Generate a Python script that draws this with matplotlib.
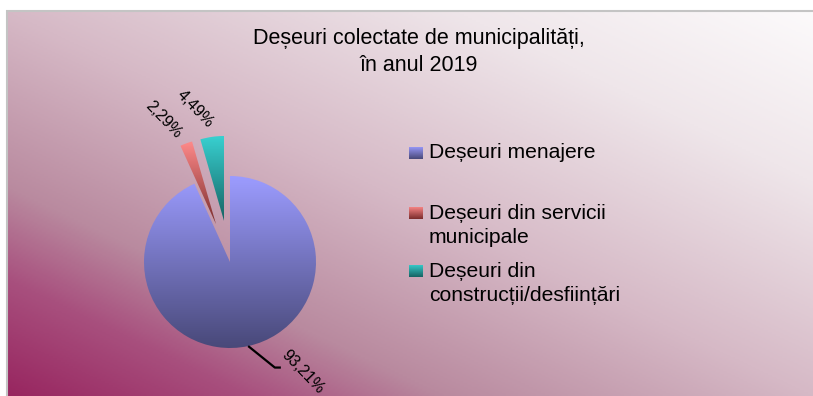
import numpy as np
import matplotlib
matplotlib.use("Agg")
import matplotlib.pyplot as plt
from matplotlib.colors import LinearSegmentedColormap

# ---- data ----
categories = ["Deșeuri menajere",
              "Deșeuri din servicii\nmunicipale",
              "Deșeuri din\nconstrucții/desființări"]
shares = [93.21, 2.29, 4.49]
share_labels = ["93,21%", "2,29%", "4,49%"]
title_text = "Deșeuri colectate de municipalități,\nîn anul 2019"

# ---- styling ----
slice_grad = [("#9c9cff", "#484878"),   # light top -> dark bottom
              ("#ff8a8a", "#7a2c2c"),
              ("#38d0d0", "#166262")]
explode = [0, 0.47, 0.47]
FONT = "Liberation Sans"

W, H = 813, 396
fig = plt.figure(figsize=(W / 100, H / 100), dpi=100)
fig.patch.set_facecolor("white")

# background panel with a diagonal gradient
bg = fig.add_axes([0, 0, 1, 1])
bg.set_xlim(0, W)
bg.set_ylim(H, 0)
bg.axis("off")
xx, yy = np.meshgrid(np.linspace(0, 1, 400), np.linspace(0, 1, 200))
t = (xx + (1 - yy)) / 2
bg_cmap = LinearSegmentedColormap.from_list(
    "bg", [(0.0, "#982660"), (0.15, "#a8507e"), (0.27, "#b98a9f"),
           (0.5, "#d6b9c6"), (0.78, "#efe6ea"), (1.0, "#fcfafb")])
bg.imshow(t, cmap=bg_cmap, extent=[7, W, H, 11], aspect="auto",
          interpolation="bilinear", vmin=0, vmax=1, zorder=0)
bg.plot([6, W], [10.5, 10.5], color="#c4c4c4", lw=1.5, zorder=1,
        solid_capstyle="butt")
bg.plot([6.5, 6.5], [10, H], color="#c4c4c4", lw=1.5, zorder=1,
        solid_capstyle="butt")

# title
fig.text(419 / W, 1 - 52 / H, title_text, ha="center", va="center",
         fontsize=15.5, family=FONT, linespacing=1.32, color="black")


def vgrad(top, bottom):
    return LinearSegmentedColormap.from_list("g", [bottom, top])


grad_img = np.linspace(0, 1, 256).reshape(-1, 1)

# pie (one data unit = 86 px)
R = 86.0
cx, cy = 230, 262
lim = 1.75
size = 2 * lim * R
ax = fig.add_axes([(cx - size / 2) / W, (H - cy - size / 2) / H,
                   size / W, size / H])
wedges, _ = ax.pie(shares, startangle=90, counterclock=False,
                   explode=explode, radius=1,
                   wedgeprops=dict(linewidth=0))
ax.set_aspect("equal")
ax.axis("off")

for w, (top, bot) in zip(wedges, slice_grad):
    v = w.get_path().vertices
    x0, x1 = v[:, 0].min(), v[:, 0].max()
    y0, y1 = v[:, 1].min(), v[:, 1].max()
    w.set_facecolor("none")
    im = ax.imshow(grad_img, cmap=vgrad(top, bot), origin="lower",
                   extent=[x0, x1, y0, y1], aspect="auto",
                   interpolation="bilinear", zorder=2)
    im.set_clip_path(w)
ax.set_xlim(-lim, lim)
ax.set_ylim(-lim, lim)

# value labels
mids = [(w.theta1 + w.theta2) / 2 for w in wedges]
for i, (w, lab) in enumerate(zip(wedges, share_labels)):
    a = np.deg2rad(mids[i])
    ox, oy = w.center
    if i == 0:
        px, py = ox + np.cos(a), oy + np.sin(a)
        ex, ey = px + 0.31, py - 0.25
        ax.plot([px, ex, ex + 0.07], [py, ey, ey], color="black",
                lw=1.6, zorder=3, solid_capstyle="butt")
        tx, ty = ex + 0.33, ey - 0.05
    else:
        a2 = a + np.deg2rad(6.5)
        d = 1.36
        tx = ox + d * np.cos(a2)
        ty = oy + d * np.sin(a2)
    ax.text(tx, ty, lab, rotation=-46, rotation_mode="anchor",
            ha="center", va="center", fontsize=11.5, family=FONT,
            color="black", zorder=4)

# legend
leg_y = [153, 225.5, 283.5]
for (top, bot), name, y in zip(slice_grad, categories, leg_y):
    first_line_y = y if "\n" not in name else y - 12.5
    sq = fig.add_axes([409 / W, (H - first_line_y - 6.5) / H, 13 / W, 13 / H])
    sq.imshow(grad_img, cmap=vgrad(top, bot), origin="lower",
              extent=[0, 1, 0, 1], aspect="auto")
    sq.axis("off")
    fig.text(429 / W, 1 - y / H, name, ha="left", va="center",
             fontsize=15.2, family=FONT, linespacing=1.3, color="black")

fig.savefig("out.png", dpi=100, facecolor="white")
